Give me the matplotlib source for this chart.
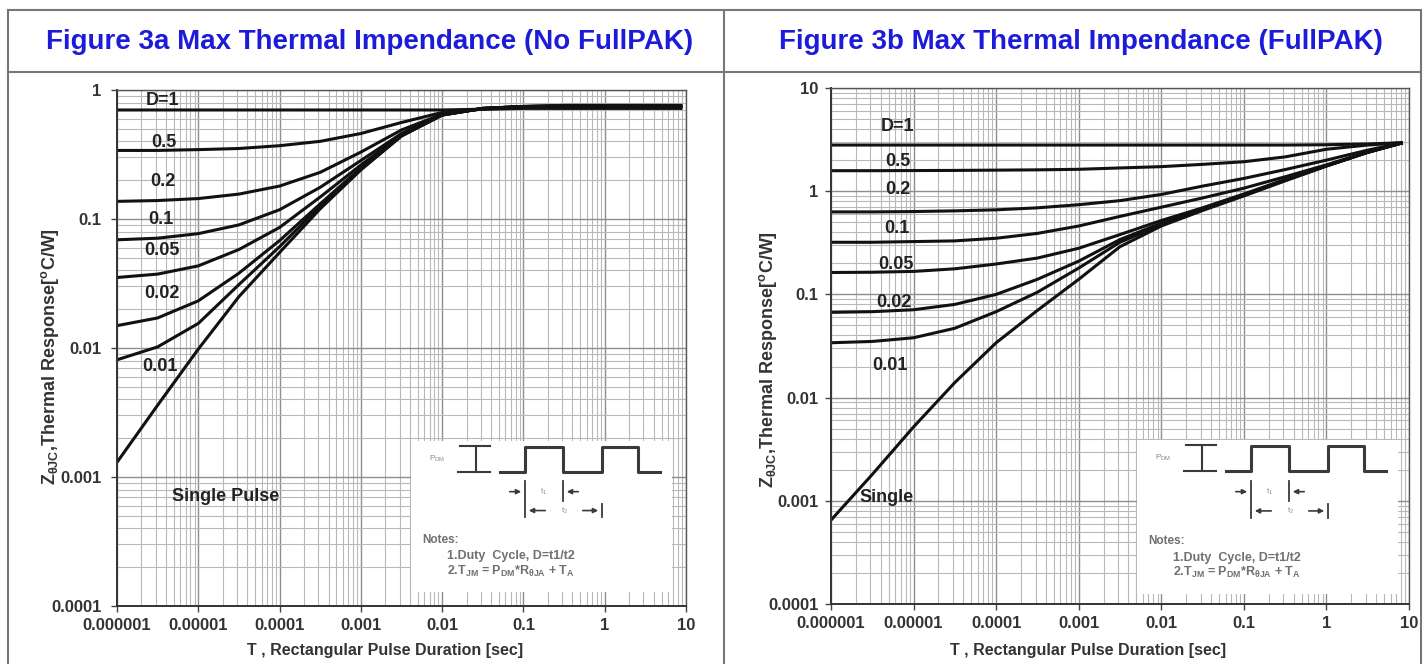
import matplotlib.pyplot as plt
from matplotlib.lines import Line2D
from matplotlib.ticker import LogLocator, NullFormatter

W, H = 1426, 664

# pulse duration grid (s), half-decade steps
t_a = [1e-6, 3.16e-6, 1e-5, 3.16e-5, 1e-4, 3.16e-4, 1e-3, 3.16e-3, 1e-2, 3.16e-2, 0.1, 0.316, 1, 3.16, 9.0]
t_b = [1e-6, 3.16e-6, 1e-5, 3.16e-5, 1e-4, 3.16e-4, 1e-3, 3.16e-3, 1e-2, 3.16e-2, 0.1, 0.316, 1, 3.16, 8.4]

# Figure 3a (no FullPAK), Z in degC/W
d1_a = [0.70, 0.70, 0.70, 0.70, 0.70, 0.70, 0.70, 0.70, 0.70, 0.71, 0.72, 0.72, 0.72, 0.72, 0.72]
d05_a = [0.34, 0.34, 0.345, 0.352, 0.37, 0.40, 0.46, 0.56, 0.67, 0.71, 0.73, 0.735, 0.735, 0.735, 0.735]
d02_a = [0.137, 0.139, 0.144, 0.156, 0.18, 0.23, 0.33, 0.49, 0.65, 0.715, 0.74, 0.74, 0.74, 0.74, 0.74]
d01_a = [0.069, 0.071, 0.077, 0.09, 0.118, 0.176, 0.284, 0.46, 0.645, 0.72, 0.74, 0.745, 0.745, 0.745, 0.745]
d005_a = [0.0352, 0.0374, 0.0433, 0.058, 0.086, 0.148, 0.262, 0.45, 0.64, 0.72, 0.745, 0.75, 0.75, 0.75, 0.75]
d002_a = [0.0149, 0.0171, 0.0232, 0.038, 0.068, 0.131, 0.249, 0.445, 0.64, 0.72, 0.745, 0.75, 0.75, 0.75, 0.75]
d001_a = [0.0081, 0.0102, 0.0155, 0.031, 0.061, 0.126, 0.244, 0.44, 0.64, 0.72, 0.745, 0.755, 0.755, 0.755, 0.755]
single_a = [0.0013, 0.0036, 0.0098, 0.025, 0.055, 0.12, 0.24, 0.44, 0.64, 0.72, 0.745, 0.76, 0.76, 0.76, 0.76]

# Figure 3b (FullPAK)
d1_b = [2.8, 2.8, 2.8, 2.8, 2.8, 2.8, 2.8, 2.8, 2.8, 2.8, 2.8, 2.8, 2.82, 2.87, 2.95]
d05_b = [1.58, 1.58, 1.585, 1.59, 1.6, 1.61, 1.63, 1.68, 1.73, 1.82, 1.93, 2.15, 2.55, 2.8, 2.95]
d02_b = [0.63, 0.63, 0.635, 0.645, 0.66, 0.69, 0.74, 0.81, 0.93, 1.12, 1.33, 1.62, 2.0, 2.5, 2.95]
d01_b = [0.32, 0.32, 0.325, 0.33, 0.35, 0.39, 0.46, 0.57, 0.70, 0.86, 1.07, 1.38, 1.8, 2.4, 2.95]
d005_b = [0.163, 0.164, 0.167, 0.177, 0.197, 0.225, 0.28, 0.38, 0.52, 0.69, 0.94, 1.3, 1.77, 2.38, 2.95]
d002_b = [0.067, 0.068, 0.071, 0.08, 0.1, 0.14, 0.21, 0.34, 0.49, 0.67, 0.92, 1.28, 1.76, 2.38, 2.95]
d001_b = [0.034, 0.035, 0.038, 0.047, 0.068, 0.105, 0.18, 0.32, 0.475, 0.66, 0.91, 1.27, 1.76, 2.38, 2.95]
single_b = [0.00065, 0.0018, 0.0052, 0.014, 0.034, 0.07, 0.14, 0.29, 0.46, 0.65, 0.9, 1.26, 1.75, 2.38, 2.95]

x_ticks = [1e-6, 1e-5, 1e-4, 1e-3, 1e-2, 0.1, 1, 10]
x_labels = ['0.000001', '0.00001', '0.0001', '0.001', '0.01', '0.1', '1', '10']
y_ticks_a = [1e-4, 1e-3, 1e-2, 0.1, 1]
y_labels_a = ['0.0001', '0.001', '0.01', '0.1', '1']
y_ticks_b = [1e-4, 1e-3, 1e-2, 0.1, 1, 10]
y_labels_b = ['0.0001', '0.001', '0.01', '0.1', '1', '10']

plt.rcParams['font.family'] = ['Liberation Sans', 'DejaVu Sans']


def fx(px):
    return px / W


def fy(py):
    return 1 - py / H


fig = plt.figure(figsize=(W / 100, H / 100), dpi=100)
fig.patch.set_facecolor('white')


def style_axes(ax, ymax, yticks, ylabels, ypad):
    ax.set_xscale('log')
    ax.set_yscale('log')
    ax.set_xlim(1e-6, 10)
    ax.set_ylim(1e-4, ymax)
    ax.set_xticks(x_ticks)
    ax.set_xticklabels(x_labels)
    ax.set_yticks(yticks)
    ax.set_yticklabels(ylabels)
    for axis in (ax.xaxis, ax.yaxis):
        axis.set_minor_locator(LogLocator(base=10, subs=range(2, 10), numticks=30))
        axis.set_minor_formatter(NullFormatter())
    ax.grid(which='major', color='#8e8e8e', lw=1.0)
    ax.grid(which='minor', color='#b8b8b8', lw=0.8)
    ax.set_axisbelow(True)
    ax.tick_params(which='major', length=4, width=1, color='#444', direction='out',
                   labelsize=12, labelcolor='#333')
    ax.tick_params(axis='x', pad=5)
    ax.tick_params(axis='y', pad=ypad)
    ax.tick_params(which='minor', length=0)
    for lbl in ax.get_xticklabels() + ax.get_yticklabels():
        lbl.set_fontweight('bold')
    for side in ('left', 'bottom'):
        ax.spines[side].set_color('#333')
        ax.spines[side].set_linewidth(1.4)
    for side in ('top', 'right'):
        ax.spines[side].set_color('#555')
        ax.spines[side].set_linewidth(1.0)


def draw_inset(rect):
    ins = fig.add_axes(rect)
    ins.set_xlim(0, 261)
    ins.set_ylim(152, 0)
    ins.set_xticks([])
    ins.set_yticks([])
    for s in ins.spines.values():
        s.set_visible(False)
    ins.set_facecolor('white')
    c = '#3a3a3a'
    # pulse train
    ins.plot([89, 114, 114, 152, 152, 191, 191, 227, 227, 249],
             [31, 31, 6, 6, 31, 31, 6, 6, 31, 31], color=c, lw=2.2)
    # P_DM bracket
    ins.plot([65, 65], [5, 31], color=c, lw=1.5)
    ins.plot([49, 79], [5, 5], color=c, lw=1.5)
    ins.plot([47, 79], [31, 31], color=c, lw=1.5)
    ins.text(26, 18, 'P$_{\\mathdefault{DM}}$', fontsize=6, color='#888', ha='center', va='center')
    # t1 / t2 markers
    ins.plot([114, 114], [40, 77], color=c, lw=1.3)
    ins.plot([152, 152], [40, 60], color=c, lw=1.3)
    ins.plot([191, 191], [63, 77], color=c, lw=1.3)
    arrow = dict(arrowstyle='-|>', color=c, lw=1.2, mutation_scale=7)
    ins.annotate('', xy=(113, 51), xytext=(96, 51), arrowprops=arrow)
    ins.annotate('', xy=(153, 51), xytext=(170, 51), arrowprops=arrow)
    ins.annotate('', xy=(115, 70), xytext=(137, 70), arrowprops=arrow)
    ins.annotate('', xy=(190, 70), xytext=(169, 70), arrowprops=arrow)
    ins.text(132, 51, 't$_{\\mathdefault{1}}$', fontsize=5.5, color='#888', ha='center', va='center')
    ins.text(153, 70, 't$_{\\mathdefault{2}}$', fontsize=5.5, color='#888', ha='center', va='center')
    nc = '#707070'
    ins.text(11, 100, 'Notes:', fontsize=8.5, fontweight='bold', color=nc, ha='left', va='center')
    ins.text(36, 116, '1.Duty  Cycle, D=t1/t2', fontsize=9, fontweight='bold', color=nc,
             ha='left', va='center')
    ins.text(36, 131, '2.T$_{\\mathdefault{JM}}$ = P$_{\\mathdefault{DM}}$*R$_{\\mathdefault{θJA}}$ + T$_{\\mathdefault{A}}$',
             fontsize=9, fontweight='bold', color=nc, ha='left', va='center')


lab = dict(fontsize=13, fontweight='bold', color='#222', ha='center', va='center')

# ---- Figure 3a ----
ax1 = fig.add_axes([fx(117), fy(606), fx(686 - 117), (606 - 90) / H])
style_axes(ax1, 1, y_ticks_a, y_labels_a, 7)
for z in [d1_a, d05_a, d02_a, d01_a, d005_a, d002_a, d001_a, single_a]:
    ax1.plot(t_a, z, color='#111', lw=2.2, solid_capstyle='butt')
ax1.text(3.68e-6, 0.836, 'D=1', **lab)
ax1.text(3.78e-6, 0.395, '0.5', **lab)
ax1.text(3.68e-6, 0.194, '0.2', **lab)
ax1.text(3.48e-6, 0.100, '0.1', **lab)
ax1.text(3.58e-6, 0.0565, '0.05', **lab)
ax1.text(3.58e-6, 0.0263, '0.02', **lab)
ax1.text(3.38e-6, 0.00713, '0.01', **lab)
ax1.text(2.14e-5, 0.0007, 'Single Pulse', **lab)
draw_inset([fx(411), fy(592), fx(672 - 411), (592 - 441) / H])

# ---- Figure 3b ----
ax2 = fig.add_axes([fx(831), fy(604), fx(1409 - 831), (604 - 88) / H])
style_axes(ax2, 10, y_ticks_b, y_labels_b, 5)
for z in [d1_b, d05_b, d02_b, d01_b, d005_b, d002_b, d001_b, single_b]:
    ax2.plot(t_b, z, color='#111', lw=2.2, solid_capstyle='butt')
ax2.text(6.47e-6, 4.2, 'D=1', **lab)
ax2.text(6.47e-6, 1.93, '0.5', **lab)
ax2.text(6.47e-6, 1.03, '0.2', **lab)
ax2.text(6.3e-6, 0.434, '0.1', **lab)
ax2.text(6.12e-6, 0.195, '0.05', **lab)
ax2.text(5.8e-6, 0.0838, '0.02', **lab)
ax2.text(5.18e-6, 0.0206, '0.01', **lab)
ax2.text(4.64e-6, 0.00107, 'Single', **lab)
draw_inset([fx(1137), fy(594), fx(1398 - 1137), (594 - 440) / H])

# ---- axis titles ----
ylab = 'Z$_{\\mathdefault{θJC}}$,Thermal Response[$^{\\mathdefault{o}}$C/W]'
fig.text(fx(50), fy(357), ylab, rotation=90, fontsize=13, fontweight='bold', color='#333',
         ha='center', va='center')
fig.text(fx(768), fy(360), ylab, rotation=90, fontsize=13, fontweight='bold', color='#333',
         ha='center', va='center')
xlab = 'T , Rectangular Pulse Duration [sec]'
fig.text(fx(385), fy(651), xlab, fontsize=11.5, fontweight='bold', color='#333', ha='center', va='center')
fig.text(fx(1088), fy(651), xlab, fontsize=11.5, fontweight='bold', color='#333', ha='center', va='center')

# ---- titles and table frame ----
blue = '#1c1cd8'
fig.text(fx(370), fy(42), 'Figure 3a Max Thermal Impendance (No FullPAK)', fontsize=20,
         fontweight='bold', color=blue, ha='center', va='center')
fig.text(fx(1081), fy(42), 'Figure 3b Max Thermal Impendance (FullPAK)', fontsize=20,
         fontweight='bold', color=blue, ha='center', va='center')
frame = dict(color='#777', lw=1.5, transform=fig.transFigure)
fig.add_artist(Line2D([fx(8), fx(1421)], [fy(10), fy(10)], **frame))
fig.add_artist(Line2D([fx(8), fx(1421)], [fy(72), fy(72)], **frame))
fig.add_artist(Line2D([fx(8), fx(8)], [fy(10), 0], **frame))
fig.add_artist(Line2D([fx(724), fx(724)], [fy(10), 0], **frame))
fig.add_artist(Line2D([fx(1421), fx(1421)], [fy(10), 0], **frame))

fig.savefig('out.png', dpi=100, facecolor='white')
